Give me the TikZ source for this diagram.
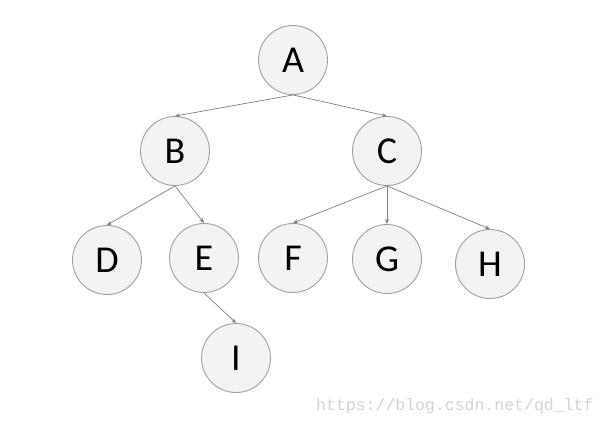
\documentclass[tikz,border=0pt]{standalone}
\usepackage{fontspec}
\setmainfont{Carlito}
\newfontfamily\urlfont{Liberation Mono}
\usetikzlibrary{arrows.meta}
\definecolor{nodefill}{HTML}{F3F3F3}
\definecolor{nodeline}{HTML}{A0A0A0}
\definecolor{edgegray}{HTML}{808080}
\definecolor{markgray}{HTML}{D4D4D4}

\begin{document}
\begin{tikzpicture}[x=1pt, y=1pt,
    treenode/.style={circle, draw=nodeline, fill=nodefill, line width=0.9pt,
                     minimum size=69pt, inner sep=0pt,
                     font=\fontsize{38}{40}\selectfont},
    treeedge/.style={-{Stealth[length=5pt, width=4pt]}, line width=0.7pt,
                     draw=edgegray}
]
\useasboundingbox[fill=white] (0,0) rectangle (607,-427);

\node[treenode] (A) at (293,-60)  {A};
\node[treenode] (B) at (175,-151) {B};
\node[treenode] (C) at (387,-151) {C};
\node[treenode] (D) at (107,-260) {D};
\node[treenode] (E) at (204,-258) {E};
\node[treenode] (F) at (293,-258) {F};
\node[treenode] (G) at (387,-259) {G};
\node[treenode] (H) at (490,-264) {H};
\node[treenode] (I) at (236,-358) {I};

\draw[treeedge] (A.south) -- (B.north);
\draw[treeedge] (A.south) -- (C.north);
\draw[treeedge] (B.south) -- (D.north);
\draw[treeedge] (B.south) -- (E.north);
\draw[treeedge] (C.south) -- (F.north);
\draw[treeedge] (C.south) -- (G.north);
\draw[treeedge] (C.south) -- (H.north);
\draw[treeedge] (E.south) -- (I.north);

\node[text=markgray, font=\urlfont\fontsize{16.5}{18}\selectfont, anchor=east]
    (mark) at (597,-406) {https://blog.csdn.net/qd\_ltf};

\end{tikzpicture}
\end{document}
